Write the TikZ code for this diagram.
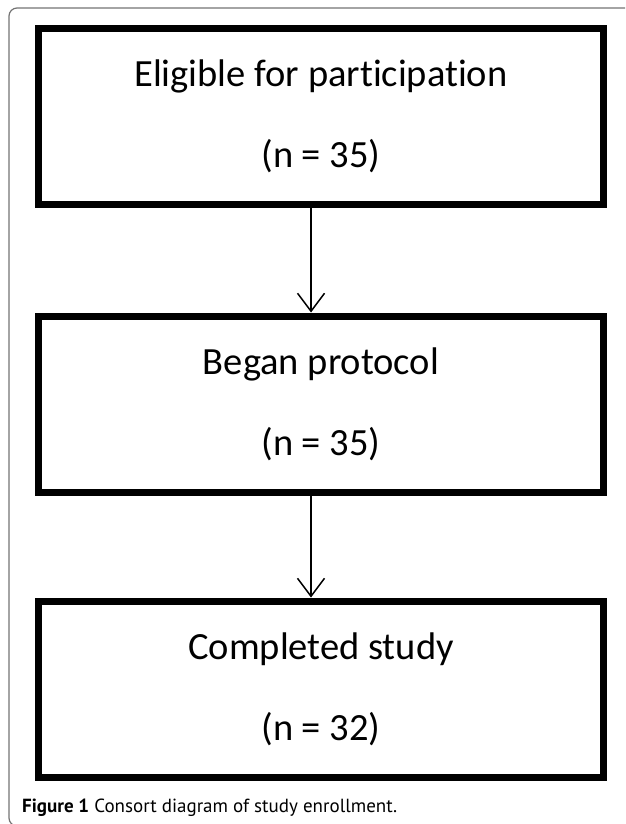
\documentclass[tikz,border=0pt]{standalone}
\usepackage{fontspec}
\setmainfont{Carlito}[Ligatures=NoCommon]
\newfontfamily\capfont{PT Sans}
\usetikzlibrary{arrows.meta}

\begin{document}
\begin{tikzpicture}[x=1pt,y=-1pt,
    box/.style={draw, line width=7pt, minimum width=565pt, minimum height=176pt,
                inner sep=0pt, align=center, font=\fontsize{38.5}{81}\selectfont},
    flow/.style={line width=1.5pt, -{Straight Barb[length=18pt,width=27pt]}}]

     \useasboundingbox (0,0) rectangle (625,824);
     \clip (0,0) rectangle (625,824);
     \draw[black!55, line width=1.2pt, rounded corners=8pt] (640,8) -- (9,8) -- (9,826) -- (640,826);

     \node[box] (Box1) at (321,116.5) {Eligible for participation\\(n = 35)};
     \node[box] (Box2) at (321,404) {Began protocol\\(n = 35)};
     \node[box] (Box3) at (321,689) {Completed study\\(n = 32)};

     \node[anchor=base west, inner sep=0pt, font=\capfont\fontsize{19}{22}\selectfont] (Cap1) at (22,812)
          {\textbf{Figure 1} Consort diagram of study enrollment.};

     \draw[flow] ([xshift=-10pt]Box1.south) -- ([xshift=-10pt]Box2.north);
     \draw[flow] ([xshift=-10pt]Box2.south) -- ([xshift=-10pt]Box3.north);

\end{tikzpicture}
\end{document}
